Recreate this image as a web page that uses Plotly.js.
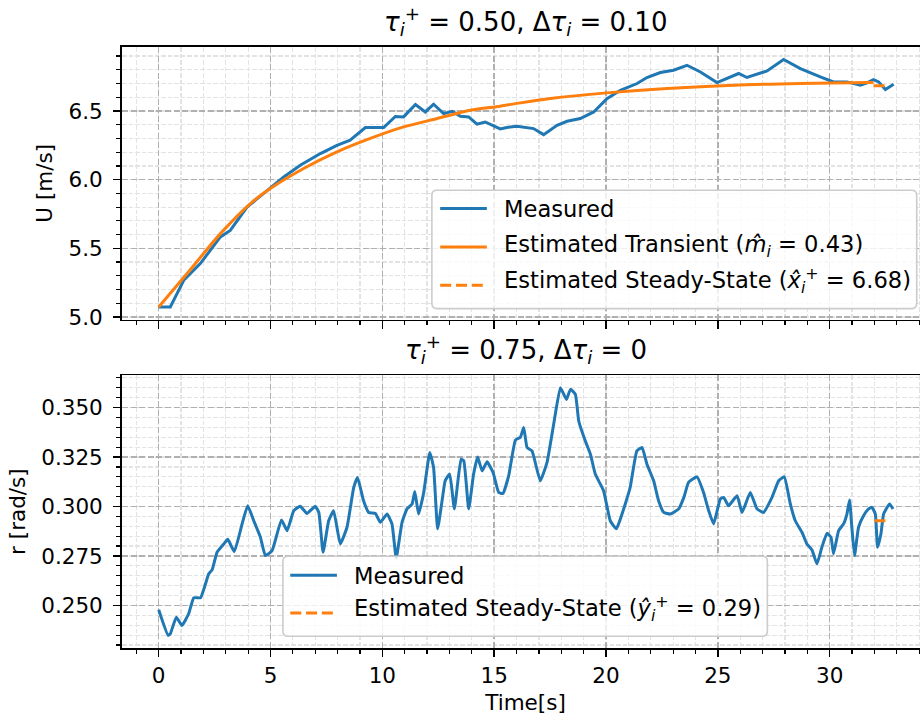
<!DOCTYPE html>
<html>
<head>
<meta charset="utf-8">
<script src="https://cdn.plot.ly/plotly-3.0.1.min.js"></script>
<style>
  html, body { margin: 0; padding: 0; overflow: hidden; background: #fff; }
  #chart { width: 929px; height: 720px; }
</style>
</head>
<body>
<div id="chart"></div>
<script>
// ---------- wind speed run (upper panel) ----------
const timeU = [0, 0.52, 1.12, 1.86, 2.76, 3.2, 3.95, 4.69, 5.59, 6.33, 7.23, 7.97, 8.56, 9.24, 10.06,
  10.58, 10.95, 11.48, 11.92, 12.29, 12.74, 13.12, 13.49, 13.86, 14.23, 14.6, 15.27, 15.57, 16.02, 16.76,
  17.21, 17.81, 18.26, 18.85, 19.45, 20.04, 20.64, 21.39, 21.83, 22.43, 23.02, 23.62, 24.22, 24.96, 25.41,
  25.93, 26.3, 27.2, 27.94, 28.69, 29.58, 30.17, 30.77, 31.37, 31.67, 31.96, 32.19, 32.49, 32.86];
const speedMeasured = [5.073, 5.073, 5.267, 5.389, 5.583, 5.63, 5.80, 5.90, 6.02, 6.105, 6.19, 6.25, 6.287, 6.38, 6.38,
  6.46, 6.457, 6.547, 6.493, 6.549, 6.481, 6.498, 6.462, 6.457, 6.404, 6.42, 6.37, 6.38, 6.389, 6.372,
  6.328, 6.396, 6.425, 6.445, 6.493, 6.59, 6.651, 6.70, 6.744, 6.78, 6.797, 6.833, 6.784, 6.707, 6.736,
  6.773, 6.744, 6.792, 6.875, 6.809, 6.748, 6.712, 6.712, 6.688, 6.705, 6.729, 6.712, 6.656, 6.695];

// fitted first-order transient
const timeFit = [0, 1.27, 2.76, 4.1, 4.99, 6.48, 7.97, 9.46, 10.95, 12.45, 13.93, 15.27, 16.17, 17.51,
  20.04, 22.73, 25.7, 28.69, 31.81, 31.96];
const speedFit = [5.073, 5.316, 5.607, 5.826, 5.935, 6.081, 6.202, 6.30, 6.384, 6.445, 6.505, 6.535, 6.559, 6.591,
  6.632, 6.664, 6.688, 6.70, 6.707, 6.708];
const transientM = 0.43;

// steady-state estimate of the speed
const timeSteadyU = [31.96, 32.53];
const speedSteady = [6.684, 6.684];

// ---------- yaw rate run (lower panel) ----------
const timeR = [0, 0.42, 0.52, 0.79, 1.04, 1.34, 1.57, 1.87, 2.24, 2.39, 2.61, 2.91, 3.09, 3.38, 3.73, 3.98,
  4.25, 4.55, 4.77, 5.07, 5.49, 5.74, 6.04, 6.33, 6.63, 7.0, 7.16, 7.35, 7.6, 7.82, 8.12, 8.42, 8.72, 8.89,
  9.16, 9.39, 9.69, 9.91, 10.21, 10.43, 10.62, 10.88, 11.1, 11.33, 11.45, 11.62, 11.85, 12.12, 12.29, 12.47,
  12.67, 12.81, 13.01, 13.22, 13.52, 13.64, 13.86, 14.08, 14.26, 14.46, 14.68, 14.95, 15.2, 15.39, 15.65,
  15.95, 16.17, 16.32, 16.47, 16.69, 17.06, 17.36, 17.66, 17.96, 18.23, 18.41, 18.63, 18.78, 19.07, 19.3,
  19.52, 19.89, 20.19, 20.46, 20.64, 20.86, 21.08, 21.38, 21.61, 21.83, 22.13, 22.35, 22.58, 22.88, 23.25,
  23.48, 23.69, 24.07, 24.36, 24.59, 24.81, 25.11, 25.26, 25.48, 25.86, 26.08, 26.45, 26.75, 27.04, 27.42,
  27.72, 27.97, 28.24, 28.46, 28.76, 28.98, 29.21, 29.43, 29.65, 29.88, 30.06, 30.17, 30.4, 30.62, 30.77,
  30.89, 30.99, 31.11, 31.29, 31.52, 31.74, 31.89, 32.04, 32.14, 32.29, 32.41, 32.68, 32.83];
const yawMeasured = [0.2478, 0.2349, 0.2357, 0.2441, 0.2399, 0.2458, 0.2539, 0.2539, 0.2660, 0.2680, 0.2769,
  0.2811, 0.2834, 0.2772, 0.2912, 0.3004, 0.2928, 0.2844, 0.2752, 0.2777, 0.2932, 0.2878, 0.2979, 0.3001,
  0.2965, 0.3001, 0.2970, 0.2769, 0.2928, 0.2979, 0.2811, 0.2895, 0.3096, 0.3147, 0.3029, 0.2970, 0.2965,
  0.2920, 0.2962, 0.2912, 0.2740, 0.2920, 0.2988, 0.3013, 0.3076, 0.2962, 0.3071, 0.3273, 0.3197, 0.2887,
  0.3029, 0.3130, 0.3164, 0.2988, 0.3239, 0.3231, 0.2988, 0.3164, 0.3250, 0.3180, 0.3226, 0.3172, 0.3071,
  0.3066, 0.3156, 0.3336, 0.3350, 0.3399, 0.3298, 0.3281, 0.3130, 0.3222, 0.3416, 0.3600, 0.3541, 0.3592,
  0.3567, 0.3432, 0.3332, 0.3265, 0.3164, 0.3080, 0.2928, 0.2887, 0.2937, 0.3013, 0.3096, 0.3281, 0.3298,
  0.3214, 0.3130, 0.3029, 0.2970, 0.2962, 0.2988, 0.3046, 0.3122, 0.3150, 0.3071, 0.2979, 0.2912, 0.3038,
  0.3046, 0.3004, 0.3054, 0.2970, 0.3071, 0.2988, 0.2970, 0.3046, 0.3130, 0.3150, 0.3013, 0.2928, 0.2870,
  0.2811, 0.2780, 0.2710, 0.2794, 0.2865, 0.2844, 0.2761, 0.2878, 0.2912, 0.2962, 0.3033, 0.2895, 0.2752,
  0.2895, 0.2954, 0.2988, 0.2996, 0.2962, 0.2794, 0.2861, 0.2962, 0.3013, 0.2988];

// steady-state estimate of the yaw rate
const timeSteadyR = [32.0, 32.54];
const yawSteady = [0.2928, 0.2928];

// ---------- axis ticks ----------
const timeTicks = [0, 5, 10, 15, 20, 25, 30];
const speedTicks = [5.0, 5.5, 6.0, 6.5];
const speedTickText = ['5.0', '5.5', '6.0', '6.5'];
const yawTicks = [0.250, 0.275, 0.300, 0.325, 0.350];
const yawTickText = ['0.250', '0.275', '0.300', '0.325', '0.350'];

// ---------- styling ----------
const BLUE = '#1f77b4', ORANGE = '#ff7f0e';
const FONT = 'DejaVu Sans, Liberation Sans, sans-serif';
const W = 929, H = 720;
const M = { l: 121.7, r: 0, t: 46.7, b: 72.3 };
const plotH = H - M.t - M.b;
const xp = px => (px - M.l) / (W - M.l - M.r);
const yp = py => (H - M.b - py) / plotH;

const topDomain = [yp(319.3), 1];
const botDomain = [0, yp(375)];

const nameMeasured = 'Measured';
const nameTransient = `Estimated Transient (<i>m̂</i><sub><i>i</i></sub> = ${transientM.toFixed(2)})`;
const nameSteadyU = `Estimated Steady-State (<i>x̂</i><sub><i>i</i></sub><sup>+</sup> = ${speedSteady[0].toFixed(2)})`;
const nameSteadyR = `Estimated Steady-State (<i>ŷ</i><sub><i>i</i></sub><sup>+</sup> = ${yawSteady[0].toFixed(2)})`;

const lw = 3;
const traces = [
  { x: timeU, y: speedMeasured, xaxis: 'x', yaxis: 'y', mode: 'lines', name: nameMeasured,
    line: { color: BLUE, width: lw } },
  { x: timeFit, y: speedFit, xaxis: 'x', yaxis: 'y', mode: 'lines', name: nameTransient,
    line: { color: ORANGE, width: lw, shape: 'spline', smoothing: 0.8 } },
  { x: timeSteadyU, y: speedSteady, xaxis: 'x', yaxis: 'y', mode: 'lines', name: nameSteadyU,
    line: { color: ORANGE, width: lw, dash: '11px,4.8px' } },
  { x: timeR, y: yawMeasured, xaxis: 'x2', yaxis: 'y2', mode: 'lines', name: nameMeasured,
    line: { color: BLUE, width: lw, shape: 'spline', smoothing: 0.4 } },
  { x: timeSteadyR, y: yawSteady, xaxis: 'x2', yaxis: 'y2', mode: 'lines', name: nameSteadyR,
    line: { color: ORANGE, width: lw, dash: '11px,4.8px' } }
];

const tickFont = { family: FONT, size: 21.5, color: '#000' };
const gridMajor = { showgrid: true, gridcolor: '#b0b0b0', gridwidth: 1.6, griddash: '6px,2.6px' };
const commonAxis = Object.assign({
  showline: true, linecolor: '#000', linewidth: 1.6, mirror: true, zeroline: false,
  ticks: 'outside', ticklen: 7.3, tickwidth: 1.6, tickcolor: '#000', tickfont: tickFont,
  layer: 'below traces'
}, gridMajor);

function minorAxis(dtick) {
  return { dtick: dtick, tick0: 0, ticks: 'outside', ticklen: 4.2, tickwidth: 1.2, tickcolor: '#000',
    showgrid: true, gridcolor: '#e3e3e3', gridwidth: 1.2, griddash: '4.5px,2px' };
}

const xRange = [-1.64, 34.44];

const layout = {
  width: W, height: H,
  margin: { l: M.l, r: M.r, t: M.t, b: M.b, pad: 0 },
  paper_bgcolor: '#fff', plot_bgcolor: '#fff',
  showlegend: false,
  font: { family: FONT, color: '#000', size: 21.5 },
  xaxis: Object.assign({}, commonAxis, {
    domain: [0, 1], anchor: 'y', range: xRange, tickmode: 'array', tickvals: timeTicks,
    showticklabels: false, minor: minorAxis(1)
  }),
  xaxis2: Object.assign({}, commonAxis, {
    domain: [0, 1], anchor: 'y2', range: xRange, tickmode: 'array', tickvals: timeTicks,
    ticktext: timeTicks.map(String), minor: minorAxis(1), ticklabelstandoff: 0,
    title: { text: 'Time[s]', font: { family: FONT, size: 21.5, color: '#000' }, standoff: 8 }
  }),
  yaxis: Object.assign({}, commonAxis, {
    domain: topDomain, anchor: 'x', range: [4.981, 6.966], tickmode: 'array',
    tickvals: speedTicks, ticktext: speedTickText, minor: minorAxis(0.1), ticklabelstandoff: 6,
    title: { text: 'U [m/s]', font: { family: FONT, size: 21.5, color: '#000' }, standoff: 10 }
  }),
  yaxis2: Object.assign({}, commonAxis, {
    domain: botDomain, anchor: 'x2', range: [0.2285, 0.3663], tickmode: 'array',
    tickvals: yawTicks, ticktext: yawTickText, minor: minorAxis(0.005), ticklabelstandoff: 6,
    title: { text: 'r [rad/s]', font: { family: FONT, size: 21.5, color: '#000' }, standoff: 10 }
  }),
  shapes: [],
  annotations: []
};

// panel titles
const titleFont = { family: FONT, size: 26, color: '#000' };
layout.annotations.push({
  xref: 'paper', yref: 'paper', x: 0.5, y: yp(46.7 - 5), xanchor: 'center', yanchor: 'bottom',
  showarrow: false, font: titleFont,
  text: '<i>τ</i><sub><i>i</i></sub><sup>+</sup> = 0.50, Δ<i>τ</i><sub><i>i</i></sub> = 0.10'
});
layout.annotations.push({
  xref: 'paper', yref: 'paper', x: 0.5, y: yp(375 - 5), xanchor: 'center', yanchor: 'bottom',
  showarrow: false, font: titleFont,
  text: '<i>τ</i><sub><i>i</i></sub><sup>+</sup> = 0.75, Δ<i>τ</i><sub><i>i</i></sub> = 0'
});

// legend boxes drawn as rounded frames with line handles and labels
function roundedBox(x1, y1, x2, y2, r) {
  const rx = r / (W - M.l - M.r), ry = r / plotH;
  const a = xp(x1), b = xp(x2), c = yp(y2), d = yp(y1); // c bottom, d top (paper)
  return `M ${a + rx},${d} L ${b - rx},${d} Q ${b},${d} ${b},${d - ry} L ${b},${c + ry} Q ${b},${c} ${b - rx},${c} ` +
         `L ${a + rx},${c} Q ${a},${c} ${a},${c + ry} L ${a},${d - ry} Q ${a},${d} ${a + rx},${d} Z`;
}
function addLegend(box, handleX, textX, rows) {
  layout.shapes.push({
    type: 'path', xref: 'paper', yref: 'paper', layer: 'above',
    path: roundedBox(box[0], box[1], box[2], box[3], 5),
    fillcolor: 'rgba(255,255,255,0.8)', line: { color: '#cccccc', width: 1.6 }
  });
  rows.forEach(row => {
    layout.shapes.push({
      type: 'line', xref: 'paper', yref: 'paper', layer: 'above',
      x0: xp(handleX[0]), x1: xp(handleX[1]), y0: yp(row.y), y1: yp(row.y),
      line: { color: row.trace.line.color, width: lw, dash: row.trace.line.dash || 'solid' }
    });
    layout.annotations.push({
      xref: 'paper', yref: 'paper', x: xp(textX), y: yp(row.ty), xanchor: 'left', yanchor: 'middle',
      showarrow: false, text: row.trace.name, font: { family: FONT, size: 22.6, color: '#000' }
    });
  });
}
addLegend([431.7, 190, 916.7, 308.3], [440, 486.7], 502, [
  { trace: traces[0], y: 208.3, ty: 209 },
  { trace: traces[1], y: 246.7, ty: 246 },
  { trace: traces[2], y: 285, ty: 280 }
]);
addLegend([282.7, 556, 767.3, 636], [290, 336.7], 352, [
  { trace: traces[3], y: 575, ty: 576 },
  { trace: traces[4], y: 612.7, ty: 608 }
]);

Plotly.newPlot('chart', traces, layout, { staticPlot: true, displayModeBar: false });
</script>
</body>
</html>
